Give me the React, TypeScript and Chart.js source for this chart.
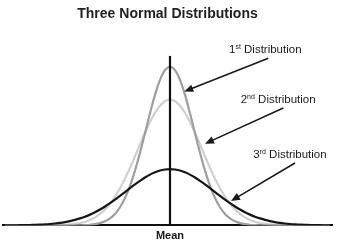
import React, { useEffect, useRef } from "react";
import { Chart, registerables } from "chart.js";

Chart.register(...registerables);

const FONT = "'Liberation Sans', Arial, Helvetica, sans-serif";

const chartTitle = "Three Normal Distributions";
const meanLabel = "Mean";
const meanX = 0;
const meanTop = 17;

const xValues = [
  -3.3, -3.2, -3.1, -3.0, -2.9, -2.8, -2.7, -2.6, -2.5, -2.4, -2.3, -2.2, -2.1, -2.0, -1.9, -1.8, -1.7,
  -1.6, -1.5, -1.4, -1.3, -1.2, -1.1, -1.0, -0.9, -0.8, -0.7, -0.6, -0.5, -0.4, -0.3, -0.2, -0.1, 0,
  0.1, 0.2, 0.3, 0.4, 0.5, 0.6, 0.7, 0.8, 0.9, 1.0, 1.1, 1.2, 1.3, 1.4, 1.5, 1.6, 1.7, 1.8, 1.9, 2.0,
  2.1, 2.2, 2.3, 2.4, 2.5, 2.6, 2.7, 2.8, 2.9, 3.0, 3.1, 3.2,
];

const firstDist = [
  0, 0, 0, 0, 0, 0, 0, 0, 0, 0, 0, 0, 0, 0, 0,
  0.01, 0.03, 0.06, 0.12, 0.23, 0.41, 0.7, 1.15, 1.82, 2.74, 3.97, 5.49, 7.28, 9.24, 11.24, 13.08, 14.58, 15.56,
  15.9,
  15.56, 14.58, 13.08, 11.24, 9.24, 7.28, 5.49, 3.97, 2.74, 1.82, 1.15, 0.7, 0.41, 0.23, 0.12, 0.06, 0.03, 0.01,
  0, 0, 0, 0, 0, 0, 0, 0, 0, 0, 0, 0, 0, 0,
];

const secondDist = [
  0, 0, 0, 0, 0, 0, 0, 0, 0,
  0.01, 0.02, 0.03, 0.06, 0.1, 0.15, 0.24, 0.37, 0.55, 0.81, 1.15, 1.6, 2.17, 2.88, 3.72, 4.69, 5.77, 6.93, 8.12,
  9.29, 10.36, 11.29, 12.0, 12.45,
  12.6,
  12.45, 12.0, 11.29, 10.36, 9.29, 8.12, 6.93, 5.77, 4.69, 3.72, 2.88, 2.17, 1.6, 1.15, 0.81, 0.55, 0.37, 0.24,
  0.15, 0.1, 0.06, 0.03, 0.02, 0.01,
  0, 0, 0, 0, 0, 0, 0, 0,
];

const thirdDist = [
  0.0, 0.01, 0.01, 0.02, 0.02, 0.04, 0.05, 0.07, 0.1, 0.14, 0.19, 0.25, 0.33, 0.43, 0.55, 0.7, 0.87, 1.08, 1.32,
  1.59, 1.89, 2.23, 2.58, 2.96, 3.34, 3.73, 4.11, 4.47, 4.8, 5.09, 5.32, 5.5, 5.6,
  5.64,
  5.6, 5.5, 5.32, 5.09, 4.8, 4.47, 4.11, 3.73, 3.34, 2.96, 2.58, 2.23, 1.89, 1.59, 1.32, 1.08, 0.87, 0.7, 0.55,
  0.43, 0.33, 0.25, 0.19, 0.14, 0.1, 0.07, 0.05, 0.04, 0.02, 0.02, 0.01, 0.01,
];

// Annotation labels and their arrows (in data units)
const annotNumbers = ["1", "2", "3"];
const annotSuffixes = ["st", "nd", "rd"];
const annotWord = "Distribution";
const annotTextX = [1.18, 1.414, 1.666];
const annotTextY = [17.58, 12.59, 7.09];
const arrowFromX = [1.966, 2.266, 2.5];
const arrowFromY = [16.75, 11.76, 6.26];
const arrowToX = [0.286, 0.7, 1.22];
const arrowToY = [13.42, 8.19, 2.45];

const annotationPlugin = {
  id: "distAnnotations",
  afterDraw(chart: any) {
    const { ctx, scales } = chart;
    const xs = scales.x;
    const ys = scales.y;
    ctx.save();
    annotNumbers.forEach((num, i) => {
      const tx = xs.getPixelForValue(annotTextX[i]);
      const ty = ys.getPixelForValue(annotTextY[i]);
      ctx.fillStyle = "#1a1a1a";
      ctx.textAlign = "left";
      ctx.textBaseline = "middle";
      ctx.font = `11.5px ${FONT}`;
      ctx.fillText(num, tx, ty);
      let w = ctx.measureText(num).width;
      ctx.font = `7px ${FONT}`;
      ctx.fillText(annotSuffixes[i], tx + w, ty - 3);
      w += ctx.measureText(annotSuffixes[i]).width;
      ctx.font = `11.5px ${FONT}`;
      ctx.fillText(" " + annotWord, tx + w, ty);

      const x1 = xs.getPixelForValue(arrowFromX[i]);
      const y1 = ys.getPixelForValue(arrowFromY[i]);
      const x2 = xs.getPixelForValue(arrowToX[i]);
      const y2 = ys.getPixelForValue(arrowToY[i]);
      const ang = Math.atan2(y2 - y1, x2 - x1);
      const headLen = 9;
      const headW = 3.8;
      const c = Math.cos(ang);
      const s = Math.sin(ang);
      const bx = x2 - headLen * c;
      const by = y2 - headLen * s;
      ctx.strokeStyle = "#1a1a1a";
      ctx.lineWidth = 1.6;
      ctx.beginPath();
      ctx.moveTo(x1, y1);
      ctx.lineTo(bx + c, by + s);
      ctx.stroke();
      ctx.beginPath();
      ctx.moveTo(x2, y2);
      ctx.lineTo(bx + headW * s, by - headW * c);
      ctx.lineTo(bx - headW * s, by + headW * c);
      ctx.closePath();
      ctx.fill();
    });
    ctx.restore();
  },
};

export default function App() {
  const canvasRef = useRef<HTMLCanvasElement | null>(null);

  useEffect(() => {
    if (!canvasRef.current) return;
    const toPoints = (vals: number[]) => xValues.map((x, i) => ({ x, y: vals[i] }));
    const curve = (label: string, vals: number[], color: string, order: number) => ({
      label,
      data: toPoints(vals),
      borderColor: color,
      borderWidth: 2.2,
      pointRadius: 0,
      fill: false,
      cubicInterpolationMode: "monotone" as const,
      order,
    });
    const chart = new Chart(canvasRef.current, {
      type: "line",
      data: {
        datasets: [
          {
            label: "Mean",
            data: [
              { x: meanX, y: 0 },
              { x: meanX, y: meanTop },
            ],
            borderColor: "#111111",
            borderWidth: 2.2,
            pointRadius: 0,
            tension: 0,
            order: -1,
          },
          curve("3rd Distribution", thirdDist, "#161616", 0),
          curve("1st Distribution", firstDist, "#9e9e9e", 1),
          curve("2nd Distribution", secondDist, "#cfcfcf", 2),
        ] as any,
      },
      options: {
        animation: false,
        responsive: false,
        events: [],
        layout: { padding: { left: 3, right: 7, top: 0, bottom: -6 } },
        plugins: {
          legend: { display: false },
          tooltip: { enabled: false },
          title: {
            display: true,
            text: chartTitle,
            color: "#222222",
            font: { family: FONT, size: 14, weight: "bold" },
            padding: { top: 6, bottom: 33 },
          },
        },
        scales: {
          x: {
            type: "linear",
            min: -3.34,
            max: 3.24,
            z: 1,
            grid: { display: false, drawTicks: false },
            border: { display: true, color: "#111111", width: 2 },
            afterBuildTicks: (scale: any) => {
              scale.ticks = [{ value: meanX }];
            },
            ticks: {
              autoSkip: false,
              maxRotation: 0,
              padding: 3.7,
              color: "#1a1a1a",
              font: { family: FONT, size: 11, weight: "bold" },
              callback: () => meanLabel,
            },
          },
          y: {
            type: "linear",
            display: false,
            min: 0,
            max: meanTop,
          },
        },
      },
      plugins: [annotationPlugin],
    });
    return () => chart.destroy();
  }, []);

  return (
    <div style={{ position: "fixed", left: 0, top: 0, width: 339, height: 240, background: "#ffffff" }}>
      <canvas ref={canvasRef} width={339} height={240} />
    </div>
  );
}
